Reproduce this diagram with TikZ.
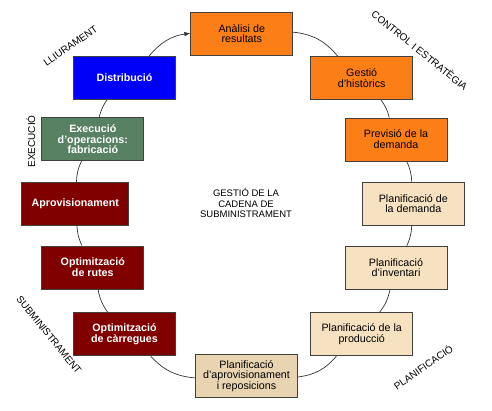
\documentclass[tikz,border=0pt]{standalone}
\usepackage{fontspec}
\setmainfont{Liberation Sans}
\usetikzlibrary{arrows.meta}
\usetikzlibrary{positioning}

\definecolor{taronja}{RGB}{252,126,22}
\definecolor{crema}{RGB}{246,226,192}
\definecolor{cremafosc}{RGB}{232,212,176}
\definecolor{granat}{RGB}{128,0,0}
\definecolor{verd}{RGB}{88,128,98}
\definecolor{blau}{RGB}{0,0,250}

\tikzset{
  caixa/.style={draw=black!75, line width=0.9pt,
    minimum width=102pt, minimum height=43pt, inner sep=2pt,
    align=center, font=\fontsize{10.7}{10.8}\selectfont},
  fosca/.style={caixa, text=white, font=\fontsize{10.7}{10.8}\selectfont\bfseries},
  etiqueta/.style={font=\fontsize{10}{10}\selectfont, inner sep=0pt},
  arc/.style={draw=black!80, line width=0.7pt}
}

\begin{document}
\begin{tikzpicture}[x=1pt,y=-1pt]
  \useasboundingbox (0,0) rectangle (492,411);

  % caixes del cicle
  \node[caixa, fill=taronja] (analisi) at (241.8,33.7) {Anàlisi de\\resultats};
  \node[caixa, fill=taronja] (historics) at (361.7,78) {Gestió\\d’històrics};
  \node[caixa, fill=taronja] (previsio) at (396,139.5) {Previsió de la\\demanda};
  \node[caixa, fill=crema] (pdemanda) at (413.3,203.7) {Planificació de\\la demanda};
  \node[caixa, fill=crema] (inventari) at (396,267.7) {Planificació\\d’inventari};
  \node[caixa, fill=crema] (produccio) at (361.7,334.3) {Planificació de la\\producció};
  \node[caixa, fill=cremafosc] (reposicions) at (246.5,376) {Planificació\\d’aprovisionament\\i reposicions};
  \node[fosca, fill=granat] (carregues) at (124.5,334.3) {Optimització\\de càrregues};
  \node[fosca, fill=granat] (rutes) at (92.8,267.5) {Optimització\\de rutes};
  \node[fosca, fill=granat, minimum width=107pt] (aprov) at (75.3,203.7) {Aprovisionament};
  \node[fosca, fill=verd] (execucio) at (92.8,139.3) {Execució\\d’operacions:\\fabricació};
  \node[fosca, fill=blau] (distribucio) at (124.5,77.7) {Distribució};

  % etiquetes
  \node[etiqueta, rotate=35] (lliurament) at (70.5,46) {LLIURAMENT};
  \node[etiqueta, rotate=-39] (control) at (420,50) {CONTROL I ESTRATÈGIA};
  \node[etiqueta, rotate=90] (fase_exec) at (30.8,141.5) {EXECUCIÓ};
  \node[etiqueta, rotate=-51] (subministrament) at (49,335) {SUBMINISTRAMENT};
  \node[etiqueta, rotate=35] (planificacio) at (423,367) {PLANIFICACIÓ};
  \node[etiqueta, align=center, font=\fontsize{9.5}{10.2}\selectfont] (centre) at (246,203)
    {GESTIÓ DE LA\\CADENA DE\\SUBMINISTRAMENT};

  \path[arc]
  (analisi) edge[bend left=22] (historics)
  (historics) edge[bend left=12] (previsio)
  (previsio) edge[bend left=11] (pdemanda)
  (pdemanda) edge[bend left=11] (inventari)
  (inventari) edge[bend left=12] (produccio)
  (produccio) edge[bend left=21] (reposicions)
  (reposicions) edge[bend left=21] (carregues)
  (carregues) edge[bend left=12] (rutes)
  (rutes) edge[bend left=11] (aprov)
  (aprov) edge[bend left=12] (execucio)
  (execucio) edge[bend left=11] (distribucio);
  \draw[arc, -{Latex[length=6pt,width=4.5pt]}] (distribucio) to[bend left=21] (analisi);
\end{tikzpicture}
\end{document}
